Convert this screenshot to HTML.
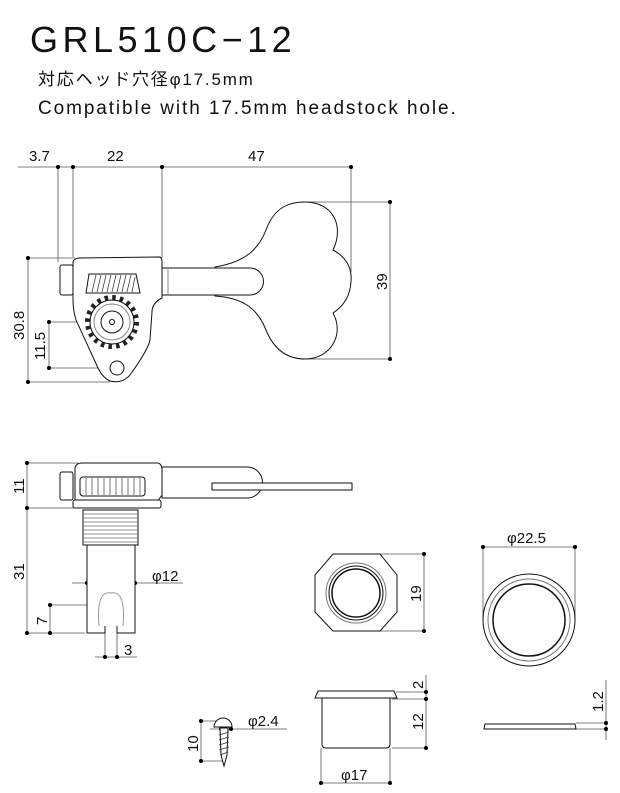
<!DOCTYPE html>
<html><head><meta charset="utf-8"><style>
body{margin:0;background:#fff}
svg{display:block}
text{font-family:"Liberation Sans","Noto Sans CJK JP",sans-serif;fill:#111}
.d{font-size:15px}
</style></head><body>
<svg width="620" height="793" viewBox="0 0 620 793" xmlns="http://www.w3.org/2000/svg">
<text x="30" y="52" font-size="36" letter-spacing="4.5" style="font-weight:300">GRL510C−12</text>
<text x="38" y="85" font-size="17" letter-spacing="1.8">対応ヘッド穴径φ17.5mm</text>
<text x="38" y="114" font-size="19" letter-spacing="1.9">Compatible with 17.5mm headstock hole.</text>

<g stroke="#555" stroke-width="0.8" fill="none">
<line x1="18" y1="167" x2="352" y2="167"/>
<line x1="58" y1="167" x2="58" y2="262"/>
<line x1="73" y1="167" x2="73" y2="257"/>
<line x1="162" y1="167" x2="162" y2="258"/>
<line x1="351" y1="167" x2="351" y2="272"/>
<line x1="305" y1="202" x2="390" y2="202"/>
<line x1="305" y1="359" x2="390" y2="359"/>
<line x1="390" y1="202" x2="390" y2="359"/>
<line x1="28" y1="258" x2="75" y2="258"/>
<line x1="28" y1="382" x2="110" y2="382"/>
<line x1="28" y1="258" x2="28" y2="382"/>
<line x1="49" y1="322" x2="112" y2="322"/>
<line x1="49" y1="368" x2="104" y2="368"/>
<line x1="49" y1="322" x2="49" y2="368"/>
<line x1="27" y1="463" x2="78" y2="463"/>
<line x1="27" y1="508" x2="75" y2="508"/>
<line x1="27" y1="463" x2="27" y2="633"/>
<line x1="27" y1="633" x2="85" y2="633"/>
<line x1="50" y1="605" x2="105" y2="605"/>
<line x1="50" y1="605" x2="50" y2="633"/>
<line x1="72" y1="583" x2="183" y2="583"/>
<line x1="95" y1="657" x2="137" y2="657"/>
<line x1="105" y1="633" x2="105" y2="657"/>
<line x1="117" y1="633" x2="117" y2="657"/>
<line x1="372" y1="554" x2="424" y2="554"/>
<line x1="372" y1="631" x2="424" y2="631"/>
<line x1="424" y1="554" x2="424" y2="631"/>
<line x1="483" y1="547" x2="575" y2="547"/>
<line x1="483" y1="547" x2="483" y2="620"/>
<line x1="575" y1="547" x2="575" y2="620"/>
<line x1="396" y1="692" x2="426" y2="692"/>
<line x1="392" y1="699" x2="426" y2="699"/>
<line x1="392" y1="748" x2="426" y2="748"/>
<line x1="426" y1="675" x2="426" y2="748"/>
<line x1="321" y1="748" x2="321" y2="783"/>
<line x1="390" y1="748" x2="390" y2="783"/>
<line x1="321" y1="783" x2="390" y2="783"/>
<line x1="576" y1="723" x2="606" y2="723"/>
<line x1="576" y1="729" x2="606" y2="729"/>
<line x1="606" y1="680" x2="606" y2="740"/>
<line x1="201" y1="721" x2="222" y2="721"/>
<line x1="201" y1="761" x2="224" y2="761"/>
<line x1="201" y1="721" x2="201" y2="761"/>
<line x1="210" y1="729" x2="287" y2="729"/>
</g>
<g fill="#000">
<circle cx="58" cy="167" r="2"/><circle cx="73" cy="167" r="2"/><circle cx="162" cy="167" r="2"/><circle cx="351" cy="167" r="2"/>
<circle cx="390" cy="202" r="2"/><circle cx="390" cy="359" r="2"/>
<circle cx="28" cy="258" r="2"/><circle cx="28" cy="382" r="2"/>
<circle cx="49" cy="322" r="2"/><circle cx="49" cy="368" r="2"/>
<circle cx="27" cy="463" r="2"/><circle cx="27" cy="508" r="2"/><circle cx="27" cy="633" r="2"/>
<circle cx="50" cy="605" r="2"/><circle cx="50" cy="633" r="2"/>
<circle cx="87" cy="583" r="2"/><circle cx="135" cy="583" r="2"/>
<circle cx="105" cy="657" r="2"/><circle cx="117" cy="657" r="2"/>
<circle cx="424" cy="554" r="2"/><circle cx="424" cy="631" r="2"/>
<circle cx="483" cy="547" r="2"/><circle cx="575" cy="547" r="2"/>
<circle cx="426" cy="692" r="2"/><circle cx="426" cy="699" r="2"/><circle cx="426" cy="748" r="2"/>
<circle cx="321" cy="783" r="2"/><circle cx="390" cy="783" r="2"/>
<circle cx="606" cy="723" r="2"/><circle cx="606" cy="729" r="2"/>
<circle cx="201" cy="721" r="2"/><circle cx="201" cy="761" r="2"/>
<circle cx="221" cy="729" r="2"/><circle cx="231" cy="729" r="2"/>
</g>
<g>
<text x="29" y="161" class="d">3.7</text>
<text x="107" y="161" class="d">22</text>
<text x="248" y="161" class="d">47</text>
<text class="d" transform="translate(387,290) rotate(-90)">39</text>
<text class="d" transform="translate(24,340) rotate(-90)">30.8</text>
<text class="d" transform="translate(45,360) rotate(-90)">11.5</text>
<text class="d" transform="translate(24,494) rotate(-90)">11</text>
<text class="d" transform="translate(24,580) rotate(-90)">31</text>
<text class="d" transform="translate(47,625) rotate(-90)">7</text>
<text x="124" y="655" class="d">3</text>
<text x="152" y="581" class="d">φ12</text>
<text class="d" transform="translate(421,602) rotate(-90)">19</text>
<text x="507" y="543" class="d">φ22.5</text>
<text class="d" transform="translate(423,689) rotate(-90)">2</text>
<text class="d" transform="translate(423,730) rotate(-90)">12</text>
<text x="341" y="780" class="d">φ17</text>
<text class="d" transform="translate(603,712) rotate(-90)">1.2</text>
<text x="248" y="726" class="d">φ2.4</text>
<text class="d" transform="translate(198,752) rotate(-90)">10</text>
</g>

<g stroke="#111" stroke-width="1" fill="#fff">
<path d="M215,267 C245,262 258,250 266,230 C275,205 292,202 305,202 C332,202 345,225 333,250 C348,258 352,270 351,282 C350,295 345,305 333,313 C345,335 330,359 305,359 C290,359 275,352 266,330 C258,310 245,298 215,296 Z"/>
<path d="M162,268 L250,268 A13.5,13.5 0 0 1 250,295 L162,295 Z"/>
<line x1="168" y1="268" x2="168" y2="295" stroke="#888"/>
<rect x="60" y="265" width="13" height="30" rx="2"/>
<path d="M73,262 Q74,258 80,258 L160,257 Q162,258 162,262 L162,298 Q152,303 152,312 L150,340 Q148,350 130,375 Q122,384 110,381 Q103,378 98,368 L76,320 Q73,310 73,300 Z"/>
<path d="M89,274 L136,274 L140,293 L86,293 Z"/>
<g stroke="#444" stroke-width="0.8">
<line x1="92" y1="292" x2="96" y2="275"/><line x1="97" y1="292" x2="101" y2="275"/><line x1="102" y1="292" x2="106" y2="275"/><line x1="107" y1="292" x2="111" y2="275"/><line x1="112" y1="292" x2="116" y2="275"/><line x1="117" y1="292" x2="121" y2="275"/><line x1="122" y1="292" x2="126" y2="275"/><line x1="127" y1="292" x2="131" y2="275"/><line x1="132" y1="292" x2="135" y2="277"/>
</g>
<circle cx="112" cy="322" r="24.5" stroke-dasharray="3.5 4.2" stroke-width="5" stroke="#222" fill="none"/>
<circle cx="112" cy="322" r="22" fill="#fff"/>
<circle cx="112" cy="322" r="18" stroke="#888"/>
<circle cx="112" cy="322" r="11"/>
<circle cx="112" cy="322" r="2.5"/>
<circle cx="117" cy="368" r="7"/>

<path d="M162,467 L247,467 A15.5,15.5 0 0 1 247,498 L162,498 Z"/>
<rect x="212" y="483" width="140" height="7"/>
<rect x="60" y="472" width="13" height="28" rx="2"/>
<path d="M75,468 Q76,463 82,463 L158,463 Q162,464 162,470 L162,495 L155,505 L75,505 Z"/>
<rect x="73" y="500" width="88" height="8" rx="2"/>
<rect x="80" y="477" width="65" height="19" rx="3"/>
<g stroke="#555" stroke-width="0.8">
<line x1="86" y1="478" x2="86" y2="495"/><line x1="92" y1="478" x2="92" y2="495"/><line x1="98" y1="478" x2="98" y2="495"/><line x1="104" y1="478" x2="104" y2="495"/><line x1="110" y1="478" x2="110" y2="495"/><line x1="116" y1="478" x2="116" y2="495"/><line x1="122" y1="478" x2="122" y2="495"/><line x1="128" y1="478" x2="128" y2="495"/><line x1="134" y1="478" x2="134" y2="495"/><line x1="140" y1="478" x2="140" y2="495"/>
</g>
<rect x="83" y="510" width="55" height="35"/>
<g stroke="#666" stroke-width="0.7">
<line x1="83" y1="514" x2="138" y2="514"/><line x1="83" y1="518" x2="138" y2="518"/><line x1="83" y1="522" x2="138" y2="522"/><line x1="83" y1="526" x2="138" y2="526"/><line x1="83" y1="530" x2="138" y2="530"/><line x1="83" y1="534" x2="138" y2="534"/><line x1="83" y1="538" x2="138" y2="538"/><line x1="83" y1="542" x2="138" y2="542"/>
</g>
<path d="M87,545 L135,545 L135,633 L117,633 L117,605 L105,605 L105,633 L87,633 Z"/>
<path d="M99,626 Q96,590 111,593 Q126,590 123,626" stroke="#999"/>

<polygon points="333,554 380,554 397,575 397,612 380,631 333,631 315,612 315,575"/>
<circle cx="356" cy="593" r="30" stroke="#777"/>
<circle cx="356" cy="593" r="27"/>
<circle cx="356" cy="593" r="24" stroke-width="1.5"/>
<circle cx="529" cy="620" r="46"/>
<circle cx="529" cy="620" r="41" stroke="#777"/>
<circle cx="529" cy="620" r="36" stroke-width="1.5"/>
<path d="M322,698 L390,698 L390,744 Q390,748 386,748 L326,748 Q322,748 322,744 Z"/>
<path d="M318,691 L394,691 L397,698 L315,698 Z"/>
<path d="M485,724 L575,724 L576,729 L484,729 Z"/>
<path d="M214,727 A9,9 0 0 1 232,727 Z"/>
<path d="M220,728 L228,728 L227,755 L224,766 L221,755 Z"/>
<g stroke="#333" stroke-width="0.8"><line x1="219" y1="735" x2="229" y2="732"/><line x1="219" y1="740" x2="229" y2="737"/><line x1="219" y1="745" x2="229" y2="742"/><line x1="219" y1="750" x2="229" y2="747"/><line x1="220" y1="755" x2="228" y2="752"/></g>
</g>
</svg>
</body></html>
